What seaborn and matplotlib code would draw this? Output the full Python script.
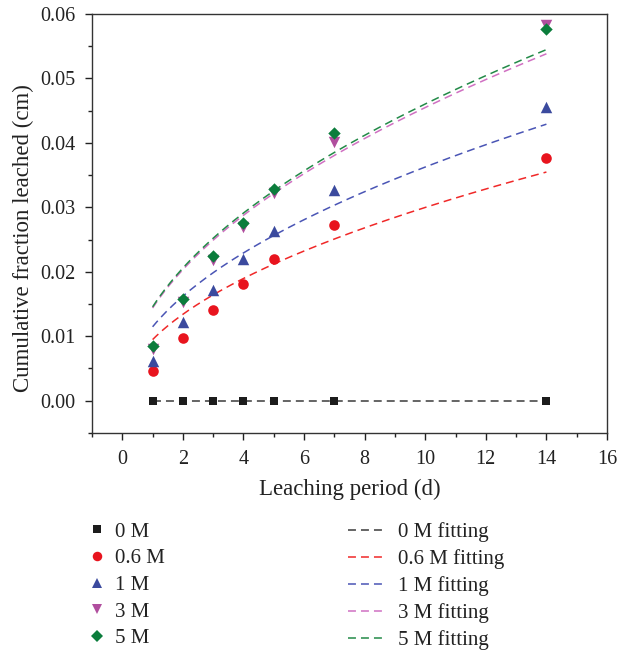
import numpy as np
import pandas as pd
import matplotlib
matplotlib.use("Agg")
import matplotlib.pyplot as plt
from matplotlib.lines import Line2D
from matplotlib.ticker import MultipleLocator, FormatStrFormatter
import seaborn as sns

# Leaching periods (days)
days = [1, 2, 3, 4, 5, 7, 14]

# Cumulative fraction leached (cm) for each concentration
cfl_0M = [0.0, 0.0, 0.0, 0.0, 0.0, 0.0, 0.0]
cfl_06M = [0.0046, 0.0098, 0.0140, 0.0181, 0.0220, 0.0273, 0.0377]
cfl_1M = [0.0062, 0.0122, 0.0172, 0.0220, 0.0263, 0.0327, 0.0455]
cfl_3M = [0.0080, 0.0153, 0.0218, 0.0270, 0.0322, 0.0402, 0.0583]
cfl_5M = [0.0085, 0.0158, 0.0225, 0.0276, 0.0329, 0.0416, 0.0576]

labels = ["0 M", "0.6 M", "1 M", "3 M", "5 M"]
series = [cfl_0M, cfl_06M, cfl_1M, cfl_3M, cfl_5M]

marker_colors = ["#1c1c1c", "#e8141e", "#3b4a9e", "#b04e9e", "#0b7d3c"]
fit_colors = ["#3a3a3a", "#f02828", "#4a55b5", "#d070c2", "#238a48"]
markers = ["s", "o", "^", "v", "D"]
marker_sizes = [38, 58, 68, 68, 40]

plt.rcParams["font.family"] = ["Liberation Serif", "DejaVu Serif"]
plt.rcParams["axes.linewidth"] = 1.0

fig = plt.figure(figsize=(6.18, 6.52), dpi=100)
ax = fig.add_axes([0.1489, 0.336, 0.8333, 0.6425])

t = np.asarray(days, dtype=float)
t_fit = np.linspace(1, 14, 200)
fit_dash = (5.2, 3.3)

# Diffusion fit through the origin: CFL = k * sqrt(t), least squares
fit_handles = []
for lab, y, fc in zip(labels, series, fit_colors):
    y = np.asarray(y)
    k = np.sum(y * np.sqrt(t)) / np.sum(t)
    fit_df = pd.DataFrame({"t": t_fit, "cfl": k * np.sqrt(t_fit)})
    sns.lineplot(data=fit_df, x="t", y="cfl", ax=ax, color=fc, lw=1.1,
                 dashes=False, zorder=2)
    ax.lines[-1].set_dashes(fit_dash)
    fit_handles.append(Line2D([], [], color=fc, lw=1.1, dashes=fit_dash,
                              label=f"{lab} fitting"))

pt_handles = []
for lab, y, mc, m, s in zip(labels, series, marker_colors, markers, marker_sizes):
    df = pd.DataFrame({"t": days, "cfl": y})
    sns.scatterplot(data=df, x="t", y="cfl", ax=ax, color=mc, marker=m, s=s,
                    linewidth=0, zorder=3, clip_on=False)
    pt_handles.append(Line2D([], [], ls="none", marker=m, color=mc,
                             markersize=np.sqrt(s) * 0.9, markeredgewidth=0,
                             label=lab))

ax.set_xlim(-1, 16)
ax.set_ylim(-0.005, 0.06)
ax.xaxis.set_major_locator(MultipleLocator(2))
ax.xaxis.set_minor_locator(MultipleLocator(1))
ax.yaxis.set_major_locator(MultipleLocator(0.01))
ax.yaxis.set_minor_locator(MultipleLocator(0.005))
ax.yaxis.set_major_formatter(FormatStrFormatter("%.2f"))
ax.tick_params(which="major", direction="out", length=5, width=1.0,
               labelsize=14.5, colors="#222222", pad=7)
ax.tick_params(which="minor", direction="out", length=3, width=1.0,
               colors="#222222")
ax.tick_params(axis="y", pad=7)
for sp in ax.spines.values():
    sp.set_color("#333333")

ax.set_xlabel("Leaching period (d)", fontsize=16.5, color="#222222")
ax.set_ylabel("Cumulative fraction leached (cm)", fontsize=16.5,
              color="#222222")
ax.xaxis.set_label_coords(0.5, -0.11)
ax.yaxis.set_label_coords(-0.112, 0.465)

leg_kw = dict(frameon=False, fontsize=15, labelspacing=0.34,
              borderaxespad=0, borderpad=0)
leg1 = fig.legend(handles=pt_handles, loc="upper left",
                  bbox_to_anchor=(0.1408, 0.1994), handlelength=1.0,
                  handletextpad=0.34, **leg_kw)
leg2 = fig.legend(handles=fit_handles, loc="upper left",
                  bbox_to_anchor=(0.5636, 0.1994), handlelength=1.68,
                  handletextpad=0.69, **leg_kw)
for leg in (leg1, leg2):
    for txt in leg.get_texts():
        txt.set_color("#222222")

fig.savefig("out.png", dpi=100)
